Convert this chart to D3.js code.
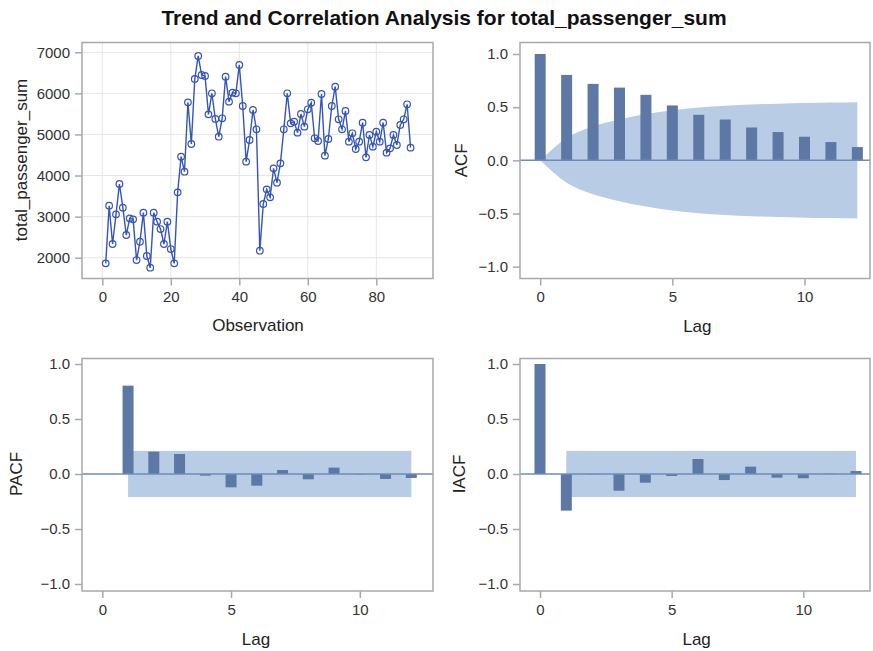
<!DOCTYPE html>
<html><head><meta charset="utf-8">
<script src="https://cdn.jsdelivr.net/npm/d3@7"></script>
<style>
body{margin:0;background:#fff;}
text{font-family:"Liberation Sans",Arial,sans-serif;}
</style></head>
<body><svg id="c" width="873" height="651"></svg>
<script>
// ---- data ----
const title = "Trend and Correlation Analysis for total_passenger_sum";
const passengers = [1862,3266,2333,3055,3794,3218,2552,2958,2933,1943,2390,3096,2041,1756,3096,2877,2698,2333,2877,2211,1862,3591,4459,4094,5782,4768,6351,6911,6448,6424,5490,6002,5377,4946,5393,6407,5799,6018,6002,6692,5693,4338,4865,5596,5125,2170,3307,3664,3469,4175,3826,4297,5125,6002,5271,5312,5044,5498,5190,5612,5774,4906,4841,5985,4484,4890,5693,6164,5369,5125,5571,4825,5028,4646,4825,5287,4443,4987,4703,5068,4825,5287,4557,4662,4987,4744,5231,5369,5734,4679];
const lags = [0,1,2,3,4,5,6,7,8,9,10,11,12];
const acf  = [1.0,0.803,0.719,0.684,0.616,0.516,0.428,0.384,0.309,0.266,0.222,0.172,0.125];
const acfBand = [0,0.211,0.319,0.384,0.435,0.472,0.497,0.513,0.525,0.533,0.539,0.543,0.546];
const pacfLags = [1,2,3,4,5,6,7,8,9,10,11,12];
const pacf = [0.803,0.203,0.182,-0.015,-0.121,-0.106,0.036,-0.048,0.058,-0.004,-0.045,-0.036];
const iacfLags = [0,1,2,3,4,5,6,7,8,9,10,11,12];
const iacf = [1.0,-0.333,-0.003,-0.152,-0.079,-0.018,0.136,-0.055,0.067,-0.033,-0.039,0.003,0.027];
const bandLags = [1,12];
const whiteNoiseBand = 0.21;
const obsTicks = [0,20,40,60,80];
const passTicks = [2000,3000,4000,5000,6000,7000];
const lagTicks = [0,5,10];
const corrTicks = [-1.0,-0.5,0.0,0.5,1.0];

const svg = d3.select("#c");
const FRAME = "#a9a9a9", BAR = "#5d78a4", BAND = "#b9cce6", REF = "#6e8cb8", LINE = "#3454bd";
const tickFont = "15px", labFont = "17px";

svg.append("text").attr("x",444).attr("y",25).attr("text-anchor","middle")
  .style("font-size","21px").style("font-weight","bold").attr("fill","#111").text(title);

function frame(g, x0,x1,y0,y1){
  g.append("rect").attr("x",x0).attr("y",y0).attr("width",x1-x0).attr("height",y1-y0)
   .attr("fill","none").attr("stroke",FRAME).attr("stroke-width",1.5);
}
function axes(g, x, y, xt, yt, x0,x1,y0,y1, yfmt){
  const ax = d3.axisBottom(x).tickValues(xt).tickSize(7).tickPadding(6).tickFormat(d3.format("d"));
  const gx = g.append("g").attr("transform",`translate(0,${y1})`).call(ax);
  const ay = d3.axisLeft(y).tickValues(yt).tickSize(7).tickPadding(5).tickFormat(yfmt);
  const gy = g.append("g").attr("transform",`translate(${x0},0)`).call(ay);
  [gx,gy].forEach(a=>{
    a.select(".domain").remove();
    a.selectAll("line").attr("stroke",FRAME).attr("stroke-width",1.5);
    a.selectAll("text").style("font-size",tickFont).attr("fill","#333").style("font-family","'Liberation Sans',Arial,sans-serif");
  });
}

// ---- Panel 1: series ----
(function(){
  const x0=82,x1=433,y0=42.5,y1=278.5;
  const x = d3.scaleLinear().domain([0,20]).range([102.3,170.8]);
  const y = d3.scaleLinear().domain([2000,7000]).range([257.7,52.3]);
  const g = svg.append("g");
  g.selectAll(".gx").data(obsTicks).join("line").attr("x1",d=>x(d)).attr("x2",d=>x(d)).attr("y1",y0).attr("y2",y1).attr("stroke","#e6e6e6");
  g.selectAll(".gy").data(passTicks).join("line").attr("y1",d=>y(d)).attr("y2",d=>y(d)).attr("x1",x0).attr("x2",x1).attr("stroke","#e6e6e6");
  const pts = passengers.map((v,i)=>[i+1,v]);
  g.append("path").datum(pts).attr("fill","none").attr("stroke",LINE).attr("stroke-width",1.4)
    .attr("d",d3.line().x(d=>x(d[0])).y(d=>y(d[1])));
  g.selectAll("circle").data(pts).join("circle").attr("cx",d=>x(d[0])).attr("cy",d=>y(d[1])).attr("r",3.3)
    .attr("fill","none").attr("stroke",LINE).attr("stroke-width",1.2);
  frame(g,x0,x1,y0,y1);
  axes(g,x,y,obsTicks,passTicks,x0,x1,y0,y1,d3.format("d"));
  g.append("text").attr("x",258).attr("y",331).attr("text-anchor","middle").style("font-size",labFont).attr("fill","#222").text("Observation");
  g.append("text").attr("transform","translate(27,160) rotate(-90)").attr("text-anchor","middle").style("font-size",labFont).attr("fill","#222").text("total_passenger_sum");
})();

function corrPanel(opts){
  const {x0,x1,y0,y1,xr,yr,lagsArr,vals,band,bandVals,ylab,labX,lagY} = opts;
  const x = d3.scaleLinear().domain([0,10]).range(xr);
  const y = d3.scaleLinear().domain([-1,1]).range(yr);
  const g = svg.append("g");
  const bw = 11;
  if(bandVals){
    const area = d3.area().x(d=>x(d[0])).y0(d=>y(-d[1])).y1(d=>y(d[1])).curve(d3.curveMonotoneX);
    g.append("path").datum(lagsArr.map((l,i)=>[l,bandVals[i]])).attr("fill",BAND).attr("d",area);
  } else {
    g.append("rect").attr("x",x(bandLags[0])).attr("width",x(bandLags[1])-x(bandLags[0]))
      .attr("y",y(whiteNoiseBand)).attr("height",y(-whiteNoiseBand)-y(whiteNoiseBand)).attr("fill",BAND);
  }
  g.selectAll(".bar").data(vals.map((v,i)=>[band[i],v])).join("rect")
    .attr("x",d=>x(d[0])-bw/2).attr("width",bw)
    .attr("y",d=>Math.min(y(d[1]),y(0))).attr("height",d=>Math.abs(y(d[1])-y(0)))
    .attr("fill",BAR);
  g.append("line").attr("x1",x0).attr("x2",x1).attr("y1",y(0)).attr("y2",y(0)).attr("stroke",REF).attr("stroke-width",1.5);
  frame(g,x0,x1,y0,y1);
  axes(g,x,y,lagTicks,corrTicks,x0,x1,y0,y1,d3.format(".1f"));
  g.append("text").attr("x",(xr[0]+xr[1])/2 + 25).attr("y",lagY).attr("text-anchor","middle").style("font-size",labFont).attr("fill","#222").text("Lag");
  g.append("text").attr("transform",`translate(${labX},${(yr[0]+yr[1])/2}) rotate(-90)`).attr("text-anchor","middle").style("font-size",labFont).attr("fill","#222").text(ylab);
}

corrPanel({x0:520,x1:870,y0:42.5,y1:278.5,xr:[540.2,804.5],yr:[266.7,54],lagsArr:lags,vals:acf,band:lags,bandVals:acfBand,ylab:"ACF",labX:467,lagY:332});
corrPanel({x0:82,x1:433,y0:358.5,y1:591,xr:[102.3,359.8],yr:[584,364],lagsArr:pacfLags,vals:pacf,band:pacfLags,bandVals:null,ylab:"PACF",labX:22,lagY:645});
corrPanel({x0:520,x1:870,y0:358.5,y1:591,xr:[540,803.3],yr:[584,364],lagsArr:iacfLags,vals:iacf,band:iacfLags,bandVals:null,ylab:"IACF",labX:465,lagY:645});
</script></body></html>
